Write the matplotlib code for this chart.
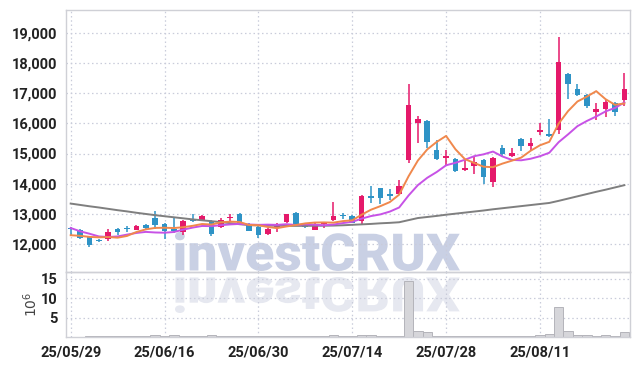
import numpy as np
import pandas as pd
import matplotlib
matplotlib.use("Agg")
import matplotlib.pyplot as plt
from matplotlib.patches import PathPatch
from matplotlib.textpath import TextPath
from matplotlib.font_manager import FontProperties, fontManager
from matplotlib.transforms import Affine2D, IdentityTransform

# --- daily candles (KRW) ---
opens = [12540, 12475, 12240, 12110, 12150, 12510, 12510, 12465, 12640, 12860,
         12670, 12460, 12400, 12840, 12775, 12750, 12565, 12850, 13000, 12660,
         12560, 12330, 12565, 12720, 13040, 12670, 12475, 12650, 12785, 12950,
         12940, 12750, 13600, 13840, 13620, 13670, 14780, 16020, 16090, 15130,
         14845, 14820, 14445, 14575, 14800, 14060, 15195, 14910, 15495, 15240,
         15720, 15660, 15770, 17650, 17145, 16955, 16385, 16480, 16680, 16770]
highs = [12560, 12490, 12250, 12180, 12500, 12520, 12600, 12620, 12650, 13080,
         12700, 12880, 12800, 13000, 12950, 12780, 12860, 13000, 13020, 12680,
         12580, 12530, 12690, 12990, 13050, 12700, 12680, 12720, 13380, 13030,
         12960, 13640, 13910, 13850, 13830, 14130, 17320, 16260, 16120, 15460,
         15130, 14860, 14820, 14910, 14830, 14880, 15290, 15190, 15500, 15520,
         16020, 16130, 18870, 17660, 17320, 16980, 16680, 16780, 16700, 17680]
lows = [12310, 12160, 11910, 12060, 12110, 12310, 12400, 12450, 12450, 12500,
        12170, 12370, 12310, 12730, 12760, 12265, 12540, 12750, 12640, 12420,
        12200, 12310, 12385, 12700, 12660, 12530, 12460, 12520, 12760, 12830,
        12680, 12670, 13360, 13340, 13450, 13650, 14690, 15350, 15190, 14800,
        14630, 14380, 14410, 14335, 13990, 13890, 14890, 14880, 15070, 15110,
        15600, 15560, 15660, 16820, 16900, 16500, 16100, 16200, 16260, 16590]
closes = [12500, 12200, 11960, 12090, 12400, 12390, 12490, 12610, 12530, 12640,
          12420, 12440, 12750, 12760, 12940, 12330, 12805, 12870, 12700, 12440,
          12300, 12510, 12675, 12980, 12675, 12570, 12650, 12700, 12940, 12930,
          12700, 13580, 13530, 13530, 13600, 13935, 16620, 16160, 15375, 14830,
          14930, 14410, 14530, 14730, 14210, 14855, 15000, 15010, 15240, 15340,
          15770, 15575, 18040, 17310, 16935, 16570, 16490, 16700, 16385, 17155]
# volume in millions of shares
volumes = [0.1, 0.1, 0.3, 0.2, 0.15, 0.3, 0.25, 0.3, 0.2, 0.45,
           0.3, 0.45, 0.2, 0.25, 0.15, 0.4, 0.2, 0.2, 0.15, 0.15,
           0.2, 0.15, 0.25, 0.2, 0.15, 0.2, 0.15, 0.2, 0.45, 0.2,
           0.15, 0.6, 0.5, 0.2, 0.3, 0.35, 14.6, 1.6, 1.3, 0.3,
           0.35, 0.3, 0.2, 0.25, 0.35, 0.35, 0.3, 0.2, 0.35, 0.2,
           0.45, 0.7, 7.8, 1.5, 0.4, 0.4, 0.3, 0.5, 0.35, 1.3]

# moving-average values before enough candles are on screen
ma5_head = [12290, 12270, 12235, 12220]
ma10_head = [12530, 12420, 12340, 12250, 12230, 12250, 12310, 12365, 12400]
ma60 = [13340, 13295, 13250, 13210, 13165, 13120, 13080, 13035, 12995, 12955,
        12920, 12885, 12850, 12815, 12785, 12755, 12725, 12690, 12655, 12625,
        12615, 12610, 12605, 12600, 12600, 12600, 12605, 12605, 12610, 12620,
        12635, 12650, 12665, 12685, 12700, 12720, 12790, 12860, 12895, 12930,
        12970, 13005, 13040, 13075, 13110, 13150, 13185, 13220, 13255, 13290,
        13325, 13360, 13430, 13505, 13580, 13655, 13730, 13800, 13875, 13950]

tick_pos = [0, 10, 20, 30, 40, 50]
tick_labels = ["25/05/29", "25/06/16", "25/06/30", "25/07/14", "25/07/28", "25/08/11"]

# --- derived ---
df = pd.DataFrame({"open": opens, "high": highs, "low": lows, "close": closes, "vol": volumes})
x = np.arange(len(df))
ma5 = df["close"].rolling(5).mean().to_numpy()
ma5[:len(ma5_head)] = ma5_head
ma10 = df["close"].rolling(10).mean().to_numpy()
ma10[:len(ma10_head)] = ma10_head

UP, DOWN = "#e5196a", "#2e93c6"
GRID = "#c9ccda"
names = {f.name for f in fontManager.ttflist}
tick_font = "Liberation Sans Narrow" if "Liberation Sans Narrow" in names else "Roboto"

fig = plt.figure(figsize=(6.39, 3.66), dpi=100, facecolor="white")
ax = fig.add_axes([66 / 639, 94 / 366, 564 / 639, 262 / 366])
axv = fig.add_axes([66 / 639, 29 / 366, 564 / 639, 65 / 366], sharex=ax)

# --- watermark (and its reflection) ---
wm = TextPath((0, 0), "investCRUX", size=50, prop=FontProperties(family="Roboto", weight="black"))
bb = wm.get_extents()
up_tr = Affine2D().translate(-bb.x0, -bb.y0).scale(285 / bb.width, 39 / bb.height).translate(175, 95)
dn_tr = Affine2D().translate(-bb.x0, -bb.y0).scale(285 / bb.width, -36 / bb.height).translate(175, 89)
fig.add_artist(PathPatch(up_tr.transform_path(wm), transform=IdentityTransform(),
                         facecolor="#c9d0e4", edgecolor="none", zorder=-1))
fig.add_artist(PathPatch(dn_tr.transform_path(wm), transform=IdentityTransform(),
                         facecolor="#e6e8f0", edgecolor="none", zorder=-1))

# --- candles ---
colors = [UP if c >= o else DOWN for o, c in zip(df["open"], df["close"])]
ax.vlines(x, df["low"], df["high"], colors=colors, linewidth=1.1, zorder=2)
body = np.maximum((df["close"] - df["open"]).abs(), 45)
ax.bar(x, body, bottom=np.minimum(df["open"], df["close"]), width=0.6,
       color=colors, linewidth=0, zorder=3)

# --- moving averages ---
ax.plot(x, ma60, color="#7f7f7f", linewidth=1.4, zorder=4)
ax.plot(x, ma10, color="#c752e6", linewidth=1.4, zorder=4)
ax.plot(x, ma5, color="#f0884c", linewidth=1.4, zorder=4)

# --- volume ---
axv.bar(x, df["vol"], width=1.0, color="#d6d6da", edgecolor="#b4b4ba", linewidth=0.7, zorder=2)

for a in (ax, axv):
    a.set_facecolor("none")
    a.grid(True, color=GRID, linestyle=(0, (1.2, 2.2)), linewidth=0.9)
    a.set_axisbelow(True)
    for s in a.spines.values():
        s.set_color("#cfd0d6")
        s.set_linewidth(1.0)
    a.tick_params(length=0, labelsize=10, colors="#222222")

ax.set_xlim(-0.5, 59.6)
ax.set_ylim(11070, 19760)
ax.set_yticks(range(12000, 20000, 1000))
ax.set_yticklabels([f"{v:,}" for v in range(12000, 20000, 1000)], fontfamily=tick_font,
                   fontweight="bold", fontsize=10.5)
ax.tick_params(axis="x", labelbottom=False)
ax.tick_params(axis="y", pad=6)

axv.set_ylim(0, 16.8)
axv.set_yticks([5, 10, 15])
axv.set_yticklabels(["5", "10", "15"], fontfamily=tick_font, fontweight="bold", fontsize=10.5)
axv.set_xticks(tick_pos)
axv.set_xticklabels(tick_labels, fontfamily=tick_font, fontweight="bold", fontsize=10.5)
axv.tick_params(axis="y", pad=6)
axv.tick_params(axis="x", pad=6)
axv.set_ylabel(r"$10^6$", fontsize=10, color="#444444", labelpad=1)

fig.savefig("out.png", dpi=100, facecolor="white")
